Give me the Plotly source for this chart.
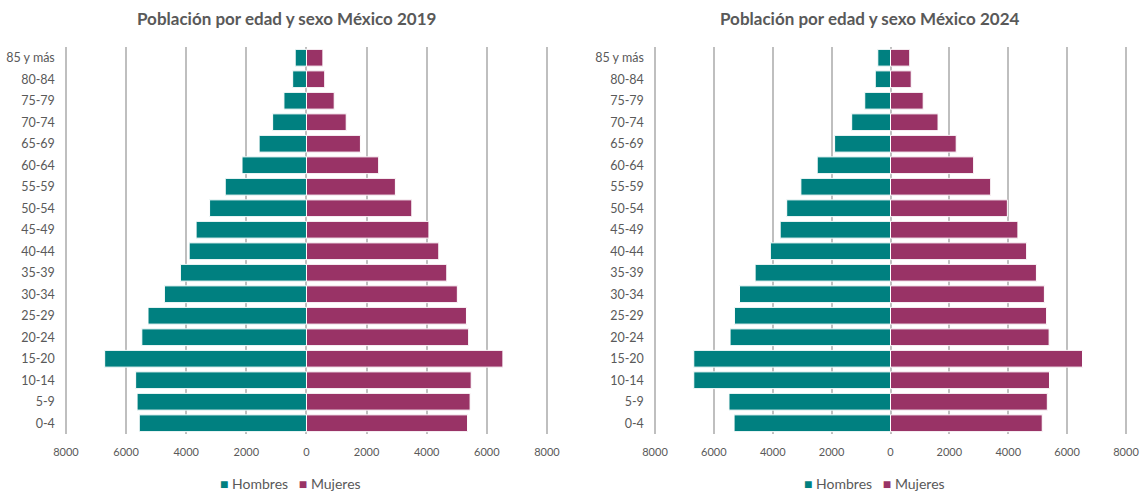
import plotly.graph_objects as go

# Grupos de edad (de abajo hacia arriba)
grupos = ["0-4", "5-9", "10-14", "15-20", "20-24", "25-29", "30-34", "35-39",
          "40-44", "45-49", "50-54", "55-59", "60-64", "65-69", "70-74",
          "75-79", "80-84", "85 y más"]

# Población en miles, 2019
hombres_2019 = [5563, 5636, 5684, 6714, 5478, 5272, 4727, 4194, 3903, 3672,
                3224, 2703, 2145, 1576, 1127, 751, 460, 376]
mujeres_2019 = [5357, 5442, 5478, 6533, 5393, 5321, 5018, 4666, 4400, 4072,
                3503, 2957, 2400, 1794, 1321, 921, 606, 545]

# Población en miles, 2024
hombres_2024 = [5314, 5487, 6683, 6683, 5450, 5302, 5129, 4599, 4081, 3748,
                3526, 3045, 2490, 1899, 1319, 875, 518, 432]
mujeres_2024 = [5154, 5327, 5401, 6523, 5388, 5302, 5228, 4957, 4624, 4328,
                3970, 3403, 2824, 2232, 1615, 1110, 703, 653]

tick_vals = [-8000, -6000, -4000, -2000, 0, 2000, 4000, 6000, 8000]
tick_text = ["8000", "6000", "4000", "2000", "0", "2000", "4000", "6000", "8000"]

titulos = ["Población por edad y sexo México 2019", "Población por edad y sexo México 2024"]

COLOR_H = "#008080"
COLOR_M = "#993366"
GRIS = "#595959"
FONT = "Lato"

W, H = 1141, 493
PAD = 40  # margen del rango para que se vean las líneas de ±8000

fig = go.Figure()

series = [
    (hombres_2019, mujeres_2019, "x", "y"),
    (hombres_2024, mujeres_2024, "x2", "y2"),
]
for hom, muj, xa, ya in series:
    fig.add_trace(go.Bar(
        y=grupos, x=[-v for v in hom], customdata=hom, orientation="h",
        name="Hombres", marker=dict(color=COLOR_H, line=dict(color="white", width=1)),
        xaxis=xa, yaxis=ya, showlegend=False,
        hovertemplate="%{y}: %{customdata}<extra>Hombres</extra>",
    ))
    fig.add_trace(go.Bar(
        y=grupos, x=muj, orientation="h",
        name="Mujeres", marker=dict(color=COLOR_M, line=dict(color="white", width=1)),
        xaxis=xa, yaxis=ya, showlegend=False,
        hovertemplate="%{y}: %{x}<extra>Mujeres</extra>",
    ))

x_common = dict(
    range=[-8000 - PAD, 8000 + PAD], tickvals=tick_vals, ticktext=tick_text,
    showgrid=True, gridcolor="#bfbfbf", gridwidth=1.5,
    zeroline=True, zerolinecolor="#bfbfbf", zerolinewidth=1.5,
    showline=False, ticks="", ticklabelstandoff=10, automargin=False,
    tickfont=dict(family=FONT, size=11, color=GRIS), fixedrange=True,
)
y_common = dict(
    showgrid=False, zeroline=False, showline=False, ticks="", automargin=False,
    ticklabelstandoff=9, tickfont=dict(family=FONT, size=12.5, color=GRIS),
    domain=[59 / H, 1 - 47 / H], fixedrange=True,
)


def dominio(x_izq, x_der):
    # amplía el dominio en píxeles equivalentes al margen del rango
    extra = (x_der - x_izq) * PAD / 16000
    return [(x_izq - extra) / W, (x_der + extra) / W]


fig.update_layout(
    width=W, height=H,
    margin=dict(l=0, r=0, t=0, b=0),
    paper_bgcolor="white", plot_bgcolor="white",
    barmode="relative", bargap=0.22,
    xaxis=dict(domain=dominio(66, 547), anchor="y", **x_common),
    xaxis2=dict(domain=dominio(655, 1126), anchor="y2", **x_common),
    yaxis=dict(anchor="x", **y_common),
    yaxis2=dict(anchor="x2", **y_common),
    showlegend=False,
)

for titulo, cx in zip(titulos, [286, 870]):
    fig.add_annotation(
        text=f"<b>{titulo}</b>", x=cx / W, y=1 - 18 / H, xref="paper", yref="paper",
        xanchor="center", yanchor="middle", showarrow=False,
        font=dict(family=FONT, size=17, color=GRIS),
    )

# Leyendas bajo cada pirámide
leyenda = (f"<span style='color:{COLOR_H}'>■</span> Hombres   "
           f"<span style='color:{COLOR_M}'>■</span> Mujeres")
for cx in [290, 874]:
    fig.add_annotation(
        text=leyenda, x=cx / W, y=10 / H, xref="paper", yref="paper",
        xanchor="center", yanchor="middle", showarrow=False,
        font=dict(family=FONT, size=14, color=GRIS),
    )

fig.write_html("out.html")
